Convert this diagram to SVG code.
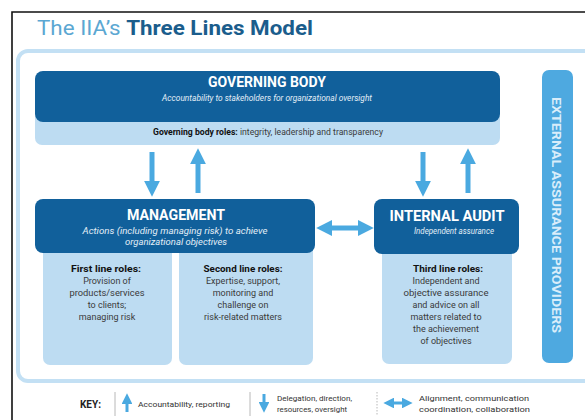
<svg xmlns="http://www.w3.org/2000/svg" width="585" height="420" viewBox="0 0 585 420">
  <defs>
    <style>
      .t { font-family: Roboto, "Liberation Sans", sans-serif; }
      .dark { fill: #11609b; }
      .pale { fill: #bddcf2; }
      .head { fill: #ffffff; font-weight: bold; text-anchor: middle; }
      .sub { fill: #e3eef7; font-style: italic; font-size: 8.5px; text-anchor: middle; }
      .role { fill: #3a3a3a; font-size: 9px; text-anchor: middle; }
      .roleb { fill: #111111; font-weight: bold; }
      .arrow { stroke: #4aa9e0; stroke-width: 5; fill: none; }
      .keyarrow { stroke: #4aa9e0; stroke-width: 3; fill: none; }
      .keytxt { fill: #333333; font-size: 8px; }
      .sep { stroke: #b8b8b8; stroke-width: 1; }
    </style>
    <marker id="ah" viewBox="0 0 10 10" refX="2" refY="5" markerWidth="3.2" markerHeight="3.2" orient="auto-start-reverse" markerUnits="strokeWidth">
      <path d="M0,0 L10,5 L0,10 Z" fill="#4aa9e0"/>
    </marker>
    <marker id="ahk" viewBox="0 0 10 10" refX="2" refY="5" markerWidth="3.6" markerHeight="3.6" orient="auto-start-reverse" markerUnits="strokeWidth">
      <path d="M0,0 L10,5 L0,10 Z" fill="#4aa9e0"/>
    </marker>
  </defs>

  <rect width="585" height="420" fill="#ffffff"/>

  <!-- frame -->
  <path d="M12,420 L12,12 L585,12" fill="none" stroke="#111111" stroke-width="1.6"/>

  <!-- title -->
  <text class="t" x="37" y="35" font-size="21" font-weight="bold" textLength="276" lengthAdjust="spacingAndGlyphs"><tspan fill="#5ba7d2" font-weight="normal">The IIA’s </tspan><tspan fill="#1b5d8c">Three Lines Model</tspan></text>

  <!-- outer container -->
  <rect x="18" y="51" width="600" height="330" rx="10" fill="#ffffff" stroke="#c3e0f4" stroke-width="4"/>

  <!-- governing body -->
  <g id="governing-body">
    <rect x="35" y="110" width="465" height="35" rx="7" class="pale"/>
    <rect x="35" y="71" width="465" height="51" rx="8" class="dark"/>
    <text class="t head" x="267" y="87" font-size="15.5" textLength="118" lengthAdjust="spacingAndGlyphs">GOVERNING BODY</text>
    <text class="t sub" x="267" y="101" textLength="210" lengthAdjust="spacingAndGlyphs">Accountability to stakeholders for organizational oversight</text>
    <text class="t role" x="268" y="135" font-size="8" textLength="230" lengthAdjust="spacingAndGlyphs"><tspan class="roleb">Governing body roles:</tspan> integrity, leadership and transparency</text>
  </g>

  <!-- management -->
  <g id="management">
    <rect x="43" y="240" width="129" height="125" rx="7" class="pale"/>
    <rect x="179" y="240" width="134" height="125" rx="7" class="pale"/>
    <rect x="35" y="199" width="280" height="54" rx="8" class="dark"/>
    <text class="t head" x="176" y="220" font-size="15" textLength="98" lengthAdjust="spacingAndGlyphs">MANAGEMENT</text>
    <text class="t sub" x="175" y="234" textLength="185" lengthAdjust="spacingAndGlyphs">Actions (including managing risk) to achieve</text>
    <text class="t sub" x="176" y="245" textLength="102" lengthAdjust="spacingAndGlyphs">organizational objectives</text>
  </g>

  <g id="first-line-roles">
    <text class="t role" x="106" y="272"><tspan class="roleb" textLength="70" lengthAdjust="spacingAndGlyphs">First line roles:</tspan></text>
    <text class="t role" x="107" y="284">Provision of</text>
    <text class="t role" x="107" y="296" textLength="75" lengthAdjust="spacingAndGlyphs">products/services</text>
    <text class="t role" x="107" y="308">to clients;</text>
    <text class="t role" x="107" y="320">managing risk</text>
  </g>

  <g id="second-line-roles">
    <text class="t role" x="243" y="272"><tspan class="roleb" textLength="79" lengthAdjust="spacingAndGlyphs">Second line roles:</tspan></text>
    <text class="t role" x="243" y="284">Expertise, support,</text>
    <text class="t role" x="243" y="296">monitoring and</text>
    <text class="t role" x="243" y="308">challenge on</text>
    <text class="t role" x="243" y="320">risk-related matters</text>
  </g>

  <!-- internal audit -->
  <g id="internal-audit">
    <rect x="382" y="240" width="130" height="124" rx="7" class="pale"/>
    <rect x="374" y="199" width="145" height="55" rx="8" class="dark"/>
    <text class="t head" x="447" y="221" font-size="15" textLength="115" lengthAdjust="spacingAndGlyphs">INTERNAL AUDIT</text>
    <text class="t sub" x="454" y="234" textLength="80" lengthAdjust="spacingAndGlyphs">Independent assurance</text>
  </g>

  <g id="third-line-roles">
    <text class="t role" x="448" y="272"><tspan class="roleb" textLength="70" lengthAdjust="spacingAndGlyphs">Third line roles:</tspan></text>
    <text class="t role" x="446" y="284">Independent and</text>
    <text class="t role" x="446" y="296" textLength="85" lengthAdjust="spacingAndGlyphs">objective assurance</text>
    <text class="t role" x="446" y="308">and advice on all</text>
    <text class="t role" x="446" y="320">matters related to</text>
    <text class="t role" x="446" y="332">the achievement</text>
    <text class="t role" x="446" y="344">of objectives</text>
  </g>

  <!-- external assurance providers -->
  <g id="external-assurance">
    <rect x="542" y="70" width="31" height="293" rx="7" fill="#4ea9e0"/>
    <text class="t" transform="translate(552,215) rotate(90)" x="0" y="0" font-size="13.5" font-weight="bold" fill="#d9edfa" text-anchor="middle" textLength="236" lengthAdjust="spacingAndGlyphs">EXTERNAL ASSURANCE PROVIDERS</text>
  </g>

  <!-- connectors -->
  <g id="connectors">
    <line class="arrow" x1="152" y1="152" x2="152" y2="184" marker-end="url(#ah)"/>
    <line class="arrow" x1="198" y1="193" x2="198" y2="161" marker-end="url(#ah)"/>
    <line class="arrow" x1="423" y1="152" x2="423" y2="184" marker-end="url(#ah)"/>
    <line class="arrow" x1="468" y1="193" x2="468" y2="161" marker-end="url(#ah)"/>
    <line class="arrow" x1="329" y1="228" x2="361" y2="228" marker-start="url(#ah)" marker-end="url(#ah)"/>
  </g>

  <!-- key -->
  <g id="key">
    <text class="t" x="80" y="408" font-size="10" font-weight="bold" fill="#222222">KEY:</text>
    <line class="sep" x1="115" y1="392" x2="115" y2="416"/>
    <line class="keyarrow" x1="127" y1="412" x2="127" y2="402" marker-end="url(#ahk)"/>
    <text class="t keytxt" x="138" y="407" textLength="92" lengthAdjust="spacingAndGlyphs">Accountability, reporting</text>
    <line class="sep" x1="250" y1="392" x2="250" y2="416"/>
    <line class="keyarrow" x1="264" y1="394" x2="264" y2="404" marker-end="url(#ahk)"/>
    <text class="t keytxt" x="277" y="401" textLength="75" lengthAdjust="spacingAndGlyphs">Delegation, direction,</text>
    <text class="t keytxt" x="277" y="412" textLength="70" lengthAdjust="spacingAndGlyphs">resources, oversight</text>
    <line class="sep" x1="377" y1="392" x2="377" y2="416" stroke-dasharray="1.5,1.5"/>
    <line class="keyarrow" x1="392" y1="403" x2="404" y2="403" marker-start="url(#ahk)" marker-end="url(#ahk)"/>
    <text class="t keytxt" x="419" y="401" textLength="110" lengthAdjust="spacingAndGlyphs">Alignment, communication</text>
    <text class="t keytxt" x="419" y="412" textLength="111" lengthAdjust="spacingAndGlyphs">coordination, collaboration</text>
  </g>
</svg>
